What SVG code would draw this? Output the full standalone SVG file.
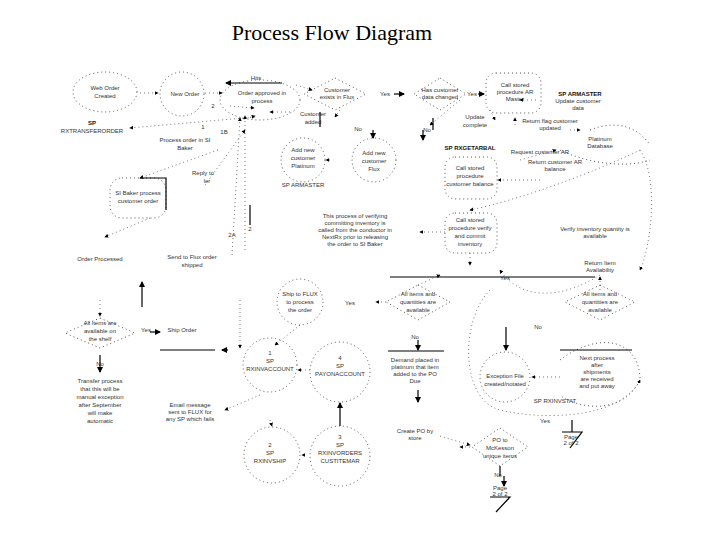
<svg xmlns="http://www.w3.org/2000/svg" width="720" height="540" viewBox="0 0 720 540">
<defs>
<style>
text{font-family:"Liberation Sans",Arial,sans-serif;font-size:6px;fill:#333;text-anchor:middle}
.title{font-family:"Liberation Serif","Times New Roman",serif;font-size:22px;fill:#000}
.b{font-weight:bold;fill:#111}
.d{fill:none;stroke:#555;stroke-width:1;stroke-dasharray:1 3}
.s{fill:none;stroke:#000;stroke-width:1.2}
.a{fill:none;stroke:#555;stroke-width:0.8;stroke-dasharray:1 3;marker-end:url(#ah)}
.sa{fill:none;stroke:#000;stroke-width:1.2;marker-end:url(#ah)}
</style>
<marker id="ah" viewBox="0 0 6 6" refX="5" refY="3" markerWidth="5" markerHeight="5" orient="auto"><path d="M0,0 L6,3 L0,6 z" fill="#000"/></marker>
</defs>
<rect width="720" height="540" fill="#fff"/>
<text class="title" x="332" y="40">Process Flow Diagram</text>

<g id="n-web"><ellipse class="d" cx="105" cy="92" rx="32" ry="20"/><text x="105" y="90">Web Order</text><text x="105" y="98">Created</text></g>
<g id="n-new"><circle class="d" cx="182" cy="94" r="22"/><text x="185" y="96">New Order</text></g>
<g id="n-approved"><ellipse class="d" cx="260" cy="100" rx="40" ry="20"/><text x="262" y="95">Order approved in</text><text x="262" y="103">process</text></g>
<g id="n-exists"><path class="d" d="M335,78 L366,94 L335,110 L304,94 z"/><text x="337" y="92">Customer</text><text x="337" y="99">exists in Flux</text></g>
<g id="n-changed"><path class="d" d="M440,78 L466,94 L440,110 L414,94 z"/><text x="440" y="92">Has customer</text><text x="440" y="99">data changed</text></g>
<g id="n-armaster"><rect class="d" x="486" y="73" width="55" height="40" rx="10"/><text x="515" y="87">Call stored</text><text x="515" y="94">procedure AR</text><text x="515" y="101">Master</text></g>
<g id="n-platinum"><path class="d" d="M590,130 C620,118 640,130 650,145 M560,150 C580,160 620,170 650,160"/><text x="600" y="141">Platinum</text><text x="600" y="148">Database</text></g>
<g id="n-addplat"><circle class="d" cx="303" cy="160" r="22"/><text x="303" y="152">Add new</text><text x="303" y="160">customer</text><text x="303" y="168">Platinum</text></g>
<g id="n-addflux"><circle class="d" cx="374" cy="160" r="22"/><text x="374" y="155">Add new</text><text x="374" y="163">customer</text><text x="374" y="171">Flux</text></g>
<g id="n-custbal"><rect class="d" x="445" y="157" width="52" height="42" rx="10"/><text x="470" y="170">Call stored</text><text x="470" y="178">procedure</text><text x="470" y="186">customer balance</text></g>
<g id="n-verify"><rect class="d" x="445" y="213" width="52" height="40" rx="10"/><text x="470" y="222">Call stored</text><text x="470" y="230">procedure verify</text><text x="470" y="238">and commit</text><text x="470" y="246">inventory</text></g>
<g id="n-sibaker"><rect class="d" x="110" y="178" width="56" height="40" rx="12"/><path class="s" d="M140,178 H166 V210"/><text x="138" y="195">SI Baker process</text><text x="138" y="203">customer order</text></g>
<g id="n-allshelf"><path class="d" d="M100,318 L135,333 L100,348 L65,333 z"/><text x="100" y="325">All items are</text><text x="100" y="333">available on</text><text x="100" y="341">the shelf</text></g>
<g id="n-shipflux"><circle class="d" cx="300" cy="302" r="23"/><text x="300" y="296">Ship to FLUX</text><text x="300" y="304">to process</text><text x="300" y="312">the order</text></g>
<g id="n-allqty1"><path class="d" d="M418,285 L450,302 L418,320 L386,302 z"/><text x="418" y="296">All items and</text><text x="418" y="304">quantities are</text><text x="418" y="312">available</text></g>
<g id="n-allqty2"><path class="d" d="M600,285 L635,302 L600,320 L565,302 z"/><text x="600" y="296">All items and</text><text x="600" y="304">quantities are</text><text x="600" y="312">available</text></g>
<g id="n-inv1"><circle class="d" cx="270" cy="365" r="27"/><text x="270" y="355">1</text><text x="270" y="363">SP</text><text x="270" y="371">RXINVACCOUNT</text></g>
<g id="n-pay"><circle class="d" cx="340" cy="372" r="30"/><text x="340" y="360">4</text><text x="340" y="368">SP</text><text x="340" y="376">PAYONACCOUNT</text></g>
<g id="n-ship"><circle class="d" cx="272" cy="455" r="28"/><text x="270" y="447">2</text><text x="270" y="455">SP</text><text x="270" y="463">RXINVSHIP</text></g>
<g id="n-orders"><circle class="d" cx="340" cy="456" r="30"/><text x="340" y="439">3</text><text x="340" y="447">SP</text><text x="340" y="455">RXINVORDERS</text><text x="340" y="463">CUSTITEMAR</text></g>
<g id="n-exception"><circle class="d" cx="505" cy="377" r="25"/><text x="505" y="378">Exception File</text><text x="505" y="386">created/notated</text></g>
<g id="n-next"><path class="d" d="M560,360 C600,330 640,340 640,380 C620,420 570,405 560,395"/><text x="597" y="360">Next process</text><text x="597" y="367">after</text><text x="597" y="374">shipments</text><text x="597" y="381">are received</text><text x="597" y="388">and put away</text></g>
<g id="n-mck"><path class="d" d="M500,428 L528,447 L500,466 L472,447 z"/><text x="500" y="442">PO to</text><text x="500" y="450">McKesson</text><text x="500" y="458">unique items</text></g>
<g id="n-page1"><path class="s" d="M572,420 V432 M562,432 H582 L570,448"/><text x="571" y="439">Page</text><text x="571" y="445">2 of 2</text></g>
<g id="n-page2"><path class="s" d="M490,497 H510 L496,512"/><text x="500" y="490">Page</text><text x="500" y="496">2 of 2</text></g>

<g id="labels">
<text x="256" y="80">Hits</text>
<text class="b" x="92" y="125">SP</text><text x="92" y="133">RXTRANSFERORDER</text>
<text x="213" y="108">2</text><text x="203" y="129">1</text><text x="224" y="134">1B</text>
<text x="185" y="142">Process order in SI</text><text x="185" y="150">Baker</text>
<text x="203" y="175">Reply to</text><text x="207" y="183">ler</text>
<text x="250" y="231">2</text><text x="232" y="237">2A</text>
<text x="100" y="261">Order Processed</text>
<text x="192" y="259">Send to Flux order</text><text x="192" y="267">shipped</text>
<text x="385" y="96">Yes</text><text x="472" y="96">Yes</text>
<text x="313" y="116">Customer</text><text x="313" y="124">added</text>
<text x="358" y="131">No</text><text x="427" y="132">No</text>
<text x="475" y="119">Update</text><text x="475" y="127">complete</text>
<text class="b" x="470" y="150">SP RXGETARBAL</text>
<text x="303" y="187">SP ARMASTER</text>
<text class="b" x="580" y="96">SP ARMASTER</text><text x="578" y="103">Update customer</text><text x="578" y="110">data</text>
<text x="550" y="123">Return flag customer</text><text x="550" y="130">updated</text>
<text x="540" y="154">Request customer AR</text>
<text x="555" y="164">Return customer AR</text><text x="555" y="171">balance</text>
<text x="355" y="218">This process of verifying</text><text x="355" y="225">committing inventory is</text><text x="355" y="232">called from the conductor in</text><text x="355" y="239">NextRx prior to releasing</text><text x="355" y="246">the order to SI Baker</text>
<text x="595" y="231">Verify inventory quantity is</text><text x="595" y="238">available</text>
<text x="600" y="265">Return Item</text><text x="600" y="272">Availability</text>
<text x="505" y="280">Yes</text>
<text x="146" y="332">Yes</text><text x="182" y="332">Ship Order</text>
<text x="100" y="366">No</text>
<text x="100" y="383">Transfer process</text><text x="100" y="391">that this will be</text><text x="100" y="399">manual exception</text><text x="100" y="407">after September</text><text x="100" y="415">will make</text><text x="100" y="423">automatic</text>
<text x="350" y="305">Yes</text>
<text x="415" y="339">No</text>
<text x="415" y="362">Demand placed in</text><text x="415" y="369">platinum that item</text><text x="415" y="376">added to the PO</text><text x="415" y="383">Due</text>
<text x="190" y="407">Email message</text><text x="190" y="414">sent to FLUX for</text><text x="190" y="421">any SP which fails</text>
<text x="415" y="433">Create PO by</text><text x="415" y="440">store</text>
<text x="538" y="329">No</text>
<text x="555" y="403">SP RXINVSTAT</text>
<text x="545" y="423">Yes</text>
<text x="498" y="477">No</text>
</g>

<g id="connectors">
<path class="sa" d="M282,83 H226"/>
<path class="a" d="M140,93 H158"/>
<path class="a" d="M205,93 H222"/>
<path class="a" d="M296,85 L312,90"/>
<path class="sa" d="M394,94 H404"/>
<path class="sa" d="M478,94 H484"/>
<path class="a" d="M536,100 L520,100"/>
<path class="a" d="M230,106 L254,108"/>
<path class="a" d="M240,120 L255,116"/>
<path class="a" d="M245,250 L245,116"/>
<path class="a" d="M232,255 L240,118"/>
<path class="a" d="M255,117 L130,128"/>
<path class="a" d="M218,150 L140,178"/>
<path class="a" d="M205,185 L245,130"/>
<path class="a" d="M150,218 L105,237"/>
<path class="s" d="M250,205 V225"/>
<path class="a" d="M290,112 L270,112"/>
<path class="s" d="M320,112 V127"/>
<path class="sa" d="M373,130 V138"/>
<path class="a" d="M340,110 L335,117"/>
<path class="a" d="M330,160 L326,160"/>
<path class="s" d="M433,118 V130"/>
<path class="sa" d="M423,130 V140"/>
<path class="a" d="M460,100 L430,125"/>
<path class="a" d="M490,110 L495,120"/>
<path class="a" d="M515,125 V118"/>
<path class="a" d="M570,130 L580,130"/>
<path class="a" d="M540,180 L498,180"/>
<path class="a" d="M520,160 L556,150"/>
<path class="a" d="M640,150 C660,180 650,250 640,270"/>
<path class="a" d="M640,150 C600,170 520,200 470,210"/>
<path class="a" d="M445,232 L420,232"/>
<path class="a" d="M470,253 V265"/>
<path class="s" d="M390,277 H595"/>
<path class="a" d="M600,275 C560,300 520,300 500,270"/>
<path class="a" d="M600,290 L600,277"/>
<path class="a" d="M386,302 L376,302"/>
<path class="a" d="M418,285 L440,275"/>
<path class="sa" d="M150,332 L160,332"/>
<path class="sa" d="M142,307 L142,282"/>
<path class="a" d="M100,300 L100,316"/>
<path class="sa" d="M100,355 V372"/>
<path class="s" d="M160,350 H215"/>
<path class="sa" d="M228,350 L222,350"/>
<path class="a" d="M300,325 L275,345"/>
<path class="a" d="M310,370 L298,370"/>
<path class="a" d="M260,395 L225,410"/>
<path class="a" d="M270,420 L272,426"/>
<path class="a" d="M305,455 L302,455"/>
<path class="sa" d="M340,426 V403"/>
<path class="a" d="M240,300 V348"/>
<path class="s" d="M388,351 H444"/>
<path class="sa" d="M418,340 V350"/>
<path class="sa" d="M418,390 V402"/>
<path class="a" d="M440,436 L470,445"/>
<path class="sa" d="M506,327 V350"/>
<path class="a" d="M560,377 L532,377"/>
<path class="a" d="M490,290 C460,320 460,400 500,410 C540,420 620,420 640,380"/>
<path class="s" d="M560,350 H632"/>
<path class="s" d="M500,466 V476"/>
<path class="sa" d="M504,476 V486"/>
<path class="a" d="M470,447 L460,447"/>
</g>
</svg>
